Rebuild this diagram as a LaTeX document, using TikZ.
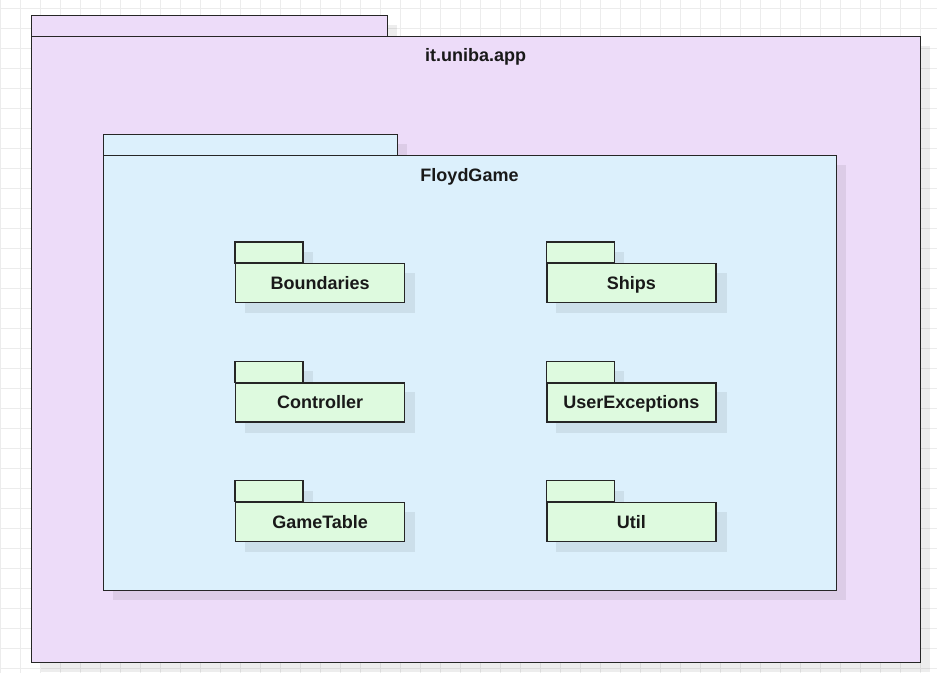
\documentclass[tikz,border=0pt]{standalone}
\usepackage{fontspec}
\setmainfont{Liberation Sans}
\usetikzlibrary{positioning}
\definecolor{appfill}{HTML}{EDDCF9}
\definecolor{gamefill}{HTML}{DCF0FC}
\definecolor{subfill}{HTML}{DEFADF}
\definecolor{gridline}{HTML}{ECECEC}
\tikzset{
  pkgline/.style={draw=black!85, line width=1.3pt},
  pkgshade/.style={fill=black, opacity=.07},
  pkgtext/.style={font=\bfseries\fontsize{18}{21}\selectfont, text=black!90,
    text height=13pt, text depth=0pt, inner sep=0pt},
  subpkg/.style={pkgline, fill=subfill, minimum width=169pt, minimum height=39pt, inner sep=0pt}
}
\begin{document}
\begin{tikzpicture}[x=1pt,y=-1pt]
  \useasboundingbox[fill=white] (0,0) rectangle (937,673);
  % background grid
  \foreach \gx in {0,20,...,940} \draw[gridline, line width=.8pt] (\gx,0) -- (\gx,673);
  \foreach \gy in {8,28,...,668} \draw[gridline, line width=.8pt] (0,\gy) -- (937,\gy);

  % it.uniba.app
  \fill[pkgshade] (41,25) rectangle (397,46);
  \fill[pkgshade] (41,46) rectangle (930,672);
  \node[pkgline, fill=appfill, anchor=north west, minimum width=356pt, minimum height=21pt,
    inner sep=0pt] (apptab) at (31,15) {};
  \node[pkgline, fill=appfill, anchor=north west, minimum width=889pt, minimum height=626pt,
    inner sep=0pt] (app) at (31,36) {};
  \node[pkgtext] (apptitle) at (475.5,55) {it.uniba.app};

  % FloydGame
  \fill[pkgshade] (113,144) rectangle (407,165);
  \fill[pkgshade] (113,165) rectangle (846,600);
  \node[pkgline, fill=gamefill, anchor=north west, minimum width=294pt, minimum height=21pt,
    inner sep=0pt] (gametab) at (103,134) {};
  \node[pkgline, fill=gamefill, anchor=north west, minimum width=733pt, minimum height=435pt,
    inner sep=0pt] (game) at (103,155) {};
  \node[pkgtext] (gametitle) at (469.5,175) {FloydGame};

  % sub packages
  \node[subpkg, anchor=north west] (boundaries) at (235,263) {};
  \node[subpkg, right=141pt of boundaries] (ships) {};
  \node[subpkg, below=79pt of boundaries] (controller) {};
  \node[subpkg, right=141pt of controller] (userexc) {};
  \node[subpkg, below=79pt of controller] (gametable) {};
  \node[subpkg, right=141pt of gametable] (util) {};
  \foreach \p in {boundaries,ships,controller,userexc,gametable,util}{
    \fill[pkgshade] ([shift={(10,10)}]\p.north west) rectangle ([shift={(10,10)}]\p.south east);
    \fill[pkgshade] ([shift={(10,-11)}]\p.north west) rectangle ([shift={(78,10)}]\p.north west);
    \draw[pkgline, fill=subfill] (\p.north west) rectangle ([shift={(68,-21)}]\p.north west);
    \node[subpkg] at (\p) {};
  }
  \node[pkgtext] at (boundaries) {Boundaries};
  \node[pkgtext] at (ships) {Ships};
  \node[pkgtext] at (controller) {Controller};
  \node[pkgtext] at (userexc) {UserExceptions};
  \node[pkgtext] at (gametable) {GameTable};
  \node[pkgtext] at (util) {Util};
\end{tikzpicture}
\end{document}
